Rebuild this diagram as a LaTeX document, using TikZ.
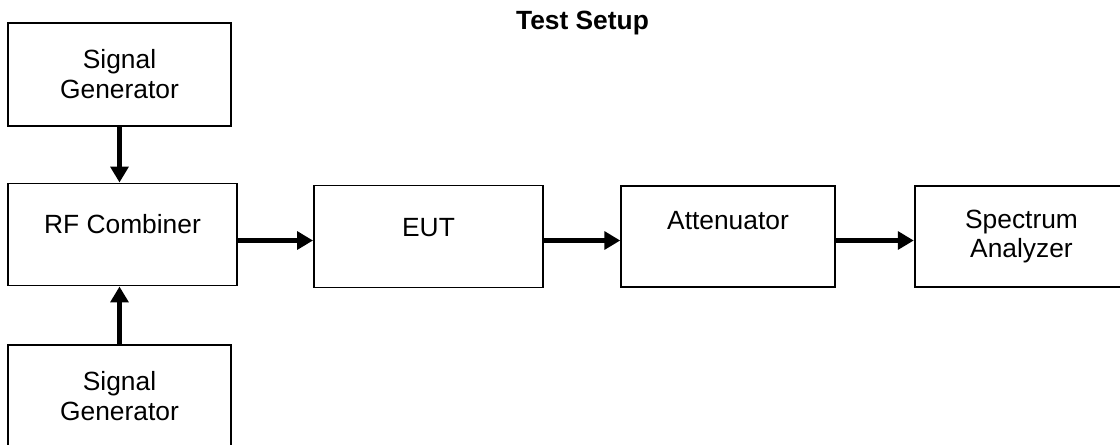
\documentclass[tikz,border=0pt]{standalone}
\usepackage{fontspec}
\setmainfont{Liberation Sans}
\usepackage{tikz}
\usetikzlibrary{arrows.meta}
\tikzset{
blocknode/.style={rectangle, draw=black!100,fill=none,line width=1.1pt, inner sep=0pt, align=center, font=\fontsize{15}{17}\selectfont},
blocknodev1/.style={blocknode, minimum width= 4.46cm, minimum height = 2.06cm},
blocknodev2/.style={blocknode, minimum width= 4.58cm, minimum height = 2.04cm},
blocknodev3/.style={blocknode, minimum width= 4.27cm, minimum height = 2.02cm},
thickarrow/.style={line width=2.8pt, black, -{Triangle[length=9pt,width=10pt]}},
}

\begin{document}
\begin{tikzpicture}
        \useasboundingbox (0,0) rectangle (22.4,-8.88);
        \node[font=\fontsize{15}{17}\selectfont\bfseries, anchor=base] at (11.65,-0.58) (title) {Test Setup};

        \node[blocknodev1] at (2.39,-1.49) (sgtop) {Signal\\Generator};
        \node[blocknodev2, text depth=0.42cm] at (2.45,-4.69) (comb) {RF Combiner};
        \node[blocknodev1] at (2.39,-7.93) (sgbot) {Signal\\Generator};
        \node[blocknodev2, text depth=0.36cm] at (8.57,-4.73) (eut) {EUT};
        \node[blocknodev3, text depth=0.66cm] at (14.56,-4.73) (att) {Attenuator};
        \node[blocknodev3] at (20.43,-4.73) (sa) {Spectrum\\Analyzer};
        \coordinate (row) at (0,-4.81);

        \draw[thickarrow] (sgtop.south) -- (sgtop.south |- comb.north);
        \draw[thickarrow] (sgbot.north) -- (sgbot.north |- comb.south);
        \draw[thickarrow] (comb.east |- row) -- (eut.west |- row);
        \draw[thickarrow] (eut.east |- row) -- (att.west |- row);
        \draw[thickarrow] (att.east |- row) -- (sa.west |- row);
    \end{tikzpicture}
\end{document}
